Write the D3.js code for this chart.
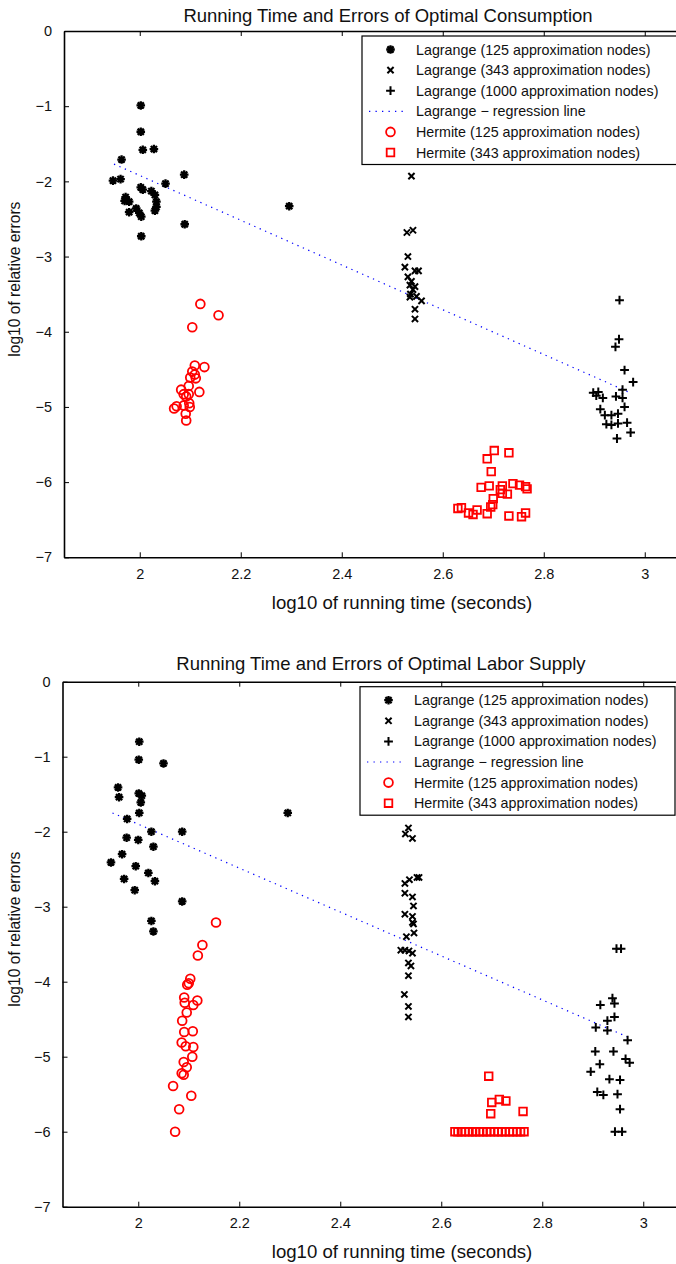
<!DOCTYPE html>
<html>
<head>
<title>Running Time and Errors</title>
<script src="https://d3js.org/d3.v7.min.js"></script>
<style>
  body {margin: 0; background: white;}
  text {font-family: "Liberation Sans", Arial, sans-serif; fill: #111;}
  .tick text {font-size: 14.5px;}
  .title {font-size: 18.5px;}
  .xlab {font-size: 18.6px;}
  .ylab {font-size: 15.6px;}
  .leg {font-size: 14.3px;}
</style>
</head>
<body>
<svg id="chart" width="676" height="1264"></svg>
<script>
// ticks shared by both panels
var xTicks = [2, 2.2, 2.4, 2.6, 2.8, 3];
var yTicks = [0, -1, -2, -3, -4, -5, -6, -7];
var legendLabels = ["Lagrange (125 approximation nodes)", "Lagrange (343 approximation nodes)",
  "Lagrange (1000 approximation nodes)", "Lagrange \u2212 regression line",
  "Hermite (125 approximation nodes)", "Hermite (343 approximation nodes)"];

// ---- panel 1: optimal consumption ----
var consLag125 = [[2.002,-0.99],[2.002,-1.34],[2.006,-1.58],[2.028,-1.57],[1.964,-1.71],[1.947,-1.99],
  [1.962,-1.97],[2.088,-1.91],[2.051,-2.03],[2.002,-2.08],[2.006,-2.11],[2.023,-2.13],[2.030,-2.18],
  [1.972,-2.21],[1.970,-2.26],[1.979,-2.27],[2.033,-2.27],[2.033,-2.34],[1.993,-2.36],[2.030,-2.39],
  [1.979,-2.41],[1.999,-2.42],[2.003,-2.47],[2.089,-2.57],[2.003,-2.73],[2.296,-2.33]];
var consLag343 = [[2.538,-1.93],[2.529,-2.68],[2.541,-2.65],[2.531,-3.00],[2.525,-3.14],[2.545,-3.19],
  [2.552,-3.19],[2.531,-3.27],[2.538,-3.33],[2.535,-3.38],[2.545,-3.40],[2.541,-3.44],[2.536,-3.50],
  [2.548,-3.53],[2.558,-3.59],[2.535,-3.54],[2.545,-3.70],[2.545,-3.83]];
var consLag1000 = [[2.950,-3.58],[2.949,-4.10],[2.942,-4.20],[2.960,-4.51],[2.977,-4.67],[2.956,-4.77],
  [2.898,-4.81],[2.908,-4.80],[2.904,-4.85],[2.917,-4.88],[2.943,-4.86],[2.956,-4.88],[2.960,-5.00],
  [2.912,-5.03],[2.921,-5.11],[2.934,-5.11],[2.947,-5.09],[2.924,-5.23],[2.934,-5.24],[2.947,-5.22],
  [2.965,-5.21],[2.972,-5.34],[2.945,-5.42]];
var consHer125 = [[2.120,-3.63],[2.156,-3.78],[2.104,-3.94],[2.109,-4.45],[2.128,-4.47],[2.104,-4.53],
  [2.109,-4.57],[2.100,-4.61],[2.111,-4.62],[2.097,-4.72],[2.082,-4.77],[2.118,-4.80],[2.087,-4.83],
  [2.097,-4.83],[2.092,-4.86],[2.098,-4.95],[2.073,-4.99],[2.068,-5.02],[2.087,-4.98],[2.099,-5.00],
  [2.091,-5.09],[2.092,-5.18]];
var consHer343 = [[2.702,-5.58],[2.731,-5.61],[2.688,-5.69],[2.696,-5.86],[2.676,-6.07],[2.692,-6.05],
  [2.718,-6.05],[2.739,-6.02],[2.752,-6.04],[2.764,-6.06],[2.767,-6.09],[2.714,-6.10],[2.718,-6.15],
  [2.728,-6.16],[2.700,-6.22],[2.699,-6.30],[2.695,-6.33],[2.630,-6.35],[2.637,-6.34],[2.668,-6.37],
  [2.651,-6.41],[2.660,-6.43],[2.688,-6.42],[2.731,-6.45],[2.756,-6.46],[2.764,-6.41]];
var consReg = [[1.949,-1.77],[2.974,-4.82]];

// ---- panel 2: optimal labor supply ----
var laborLag125 = [[2.002,-0.80],[2.001,-1.04],[2.050,-1.09],[1.960,-1.41],[1.962,-1.54],[2.001,-1.49],
  [2.007,-1.52],[2.005,-1.61],[2.002,-1.75],[2.296,-1.75],[1.978,-1.83],[2.026,-2.00],[2.087,-2.00],
  [1.977,-2.08],[2.000,-2.11],[2.030,-2.20],[1.968,-2.30],[1.946,-2.41],[1.995,-2.46],[2.020,-2.55],
  [1.972,-2.63],[2.033,-2.66],[1.993,-2.78],[2.087,-2.93],[2.026,-3.19],[2.030,-3.33]];
var laborLag343 = [[2.535,-1.95],[2.529,-2.03],[2.543,-2.09],[2.537,-2.64],[2.528,-2.69],[2.552,-2.61],
  [2.556,-2.61],[2.528,-2.82],[2.543,-2.87],[2.545,-2.99],[2.528,-3.10],[2.543,-3.13],[2.543,-3.21],
  [2.545,-3.23],[2.546,-3.35],[2.531,-3.40],[2.520,-3.58],[2.528,-3.58],[2.536,-3.59],[2.543,-3.62],
  [2.535,-3.75],[2.540,-3.79],[2.535,-3.92],[2.527,-4.17],[2.535,-4.33],[2.535,-4.47]];
var laborLag1000 = [[2.947,-3.56],[2.956,-3.56],[2.939,-4.22],[2.943,-4.29],[2.915,-4.31],[2.943,-4.47],
  [2.929,-4.52],[2.906,-4.61],[2.929,-4.65],[2.969,-4.78],[2.905,-4.93],[2.941,-4.93],[2.965,-5.03],
  [2.973,-5.08],[2.914,-5.10],[2.896,-5.20],[2.933,-5.30],[2.954,-5.31],[2.909,-5.47],[2.921,-5.51],
  [2.949,-5.50],[2.954,-5.70],[2.944,-6.00],[2.958,-6.00]];
var laborHer125 = [[2.154,-3.21],[2.127,-3.51],[2.118,-3.65],[2.103,-3.96],[2.097,-4.04],[2.100,-4.02],
  [2.091,-4.21],[2.092,-4.28],[2.117,-4.25],[2.109,-4.31],[2.096,-4.41],[2.087,-4.52],[2.091,-4.67],
  [2.108,-4.66],[2.086,-4.81],[2.094,-4.86],[2.109,-4.87],[2.107,-5.00],[2.090,-5.07],[2.096,-5.14],
  [2.086,-5.22],[2.090,-5.24],[2.069,-5.39],[2.105,-5.52],[2.081,-5.70],[2.073,-6.00]];
var laborHer343 = [[2.694,-5.26],[2.700,-5.61],[2.715,-5.57],[2.728,-5.59],[2.698,-5.76],[2.762,-5.73],
  [2.627,-6.00],[2.633,-6.00],[2.640,-6.00],[2.647,-6.00],[2.655,-6.00],[2.662,-6.00],[2.668,-6.00],
  [2.676,-6.00],[2.683,-6.00],[2.690,-6.00],[2.697,-6.00],[2.705,-6.00],[2.713,-6.00],[2.720,-6.00],
  [2.727,-6.00],[2.735,-6.00],[2.742,-6.00],[2.750,-6.00],[2.757,-6.00],[2.764,-6.00]];
var laborReg = [[1.949,-1.75],[2.970,-4.74]];

var panels = [
  {title: "Running Time and Errors of Optimal Consumption", top: 31, bottom: 557.3, left: 64, legX: 362,
   titleX: 388, titleY: 15, sets: [consLag125, consLag343, consLag1000, consHer125, consHer343], reg: consReg},
  {title: "Running Time and Errors of Optimal Labor Supply", top: 681.7, bottom: 1206.7, left: 62.5, legX: 360,
   titleX: 381, titleY: 663.5, sets: [laborLag125, laborLag343, laborLag1000, laborHer125, laborHer343], reg: laborReg}
];

// marker shapes, one per series
function marker(kind) {
  if (kind == "ast") return "M-4.3,0H4.3M0,-4.3V4.3M-3.1,-3.1L3.1,3.1M-3.1,3.1L3.1,-3.1";
  if (kind == "times") return "M-3.1,-3.1L3.1,3.1M-3.1,3.1L3.1,-3.1";
  if (kind == "plus") return "M-4.4,0H4.4M0,-4.4V4.4";
  if (kind == "square") return "M-3.8,-3.8H3.8V3.8H-3.8Z";
  return "";
}
var kinds = ["ast", "times", "plus", "circle", "square"];
var colors = ["black", "black", "black", "red", "red"];
var widths = {ast: 2.3, times: 2, plus: 2, circle: 1.8, square: 1.8};

var svg = d3.select("#chart");

function drawMarker(g, kind, color, x, y) {
  if (kind == "circle") {
    g.append("circle").attr("cx", x).attr("cy", y).attr("r", 4.4)
      .style("fill", "none").style("stroke", color).style("stroke-width", widths[kind]);
  } else {
    g.append("path").attr("d", marker(kind)).attr("transform", "translate(" + x + "," + y + ")")
      .style("fill", "none").style("stroke", color).style("stroke-width", widths[kind]);
  }
}

panels.forEach(function(p) {
  var x = d3.scaleLinear().domain([1.85, 3.17]).range([p.left, p.left + 1.32 * 505]);
  var y = d3.scaleLinear().domain([-7, 0]).range([p.bottom, p.top]);
  var g = svg.append("g");

  // axes: ticks point inward like matlab
  var fmt = function(d) { return d < 0 ? "\u2212" + Math.abs(d) : String(d); };
  var xa = g.append("g").attr("transform", "translate(0," + p.bottom + ")")
    .call(d3.axisBottom(x).tickValues(xTicks).tickSizeInner(-5).tickSizeOuter(0).tickPadding(9).tickFormat(fmt));
  g.append("g").attr("transform", "translate(0," + p.top + ")")
    .call(d3.axisTop(x).tickValues(xTicks).tickSizeInner(-5).tickSizeOuter(0).tickFormat(""));
  g.append("g").attr("transform", "translate(" + p.left + ",0)")
    .call(d3.axisLeft(y).tickValues(yTicks).tickSizeInner(-5).tickSizeOuter(0).tickPadding(12).tickFormat(fmt));
  g.selectAll(".domain").style("stroke", "black").style("stroke-width", 1.6);
  g.selectAll(".tick line").style("stroke", "black");
  xa.selectAll("text").attr("dy", "0.85em");

  // regression line
  g.append("line")
    .attr("x1", x(p.reg[0][0])).attr("y1", y(p.reg[0][1]))
    .attr("x2", x(p.reg[1][0])).attr("y2", y(p.reg[1][1]))
    .style("stroke", "#0000ff").style("stroke-width", 1.2).style("stroke-dasharray", "1.3,4.6");

  // points
  p.sets.forEach(function(set, i) {
    var sg = g.append("g");
    set.forEach(function(d) { drawMarker(sg, kinds[i], colors[i], x(d[0]), y(d[1])); });
  });

  // titles and labels
  g.append("text").attr("class", "title").attr("x", p.titleX).attr("y", p.titleY)
    .attr("text-anchor", "middle").attr("dominant-baseline", "central").text(p.title);
  g.append("text").attr("class", "xlab").attr("x", 402).attr("y", p.bottom + 45)
    .attr("text-anchor", "middle").attr("dominant-baseline", "central").text("log10 of running time (seconds)");
  var my = (p.top + p.bottom) / 2 - 15;
  g.append("text").attr("class", "ylab").attr("transform", "translate(14," + my + ") rotate(-90)")
    .attr("text-anchor", "middle").attr("dominant-baseline", "central").text("log10 of relative errors");

  // legend
  var lg = g.append("g").attr("transform", "translate(" + p.legX + "," + (p.top + 5) + ")");
  lg.append("rect").attr("width", 315).attr("height", 128.5)
    .style("fill", "white").style("stroke", "black").style("stroke-width", 1.2);
  legendLabels.forEach(function(t, i) {
    var ry = 13.5 + i * 20.6;
    if (i == 3) {
      lg.append("line").attr("x1", 7).attr("x2", 46).attr("y1", ry).attr("y2", ry)
        .style("stroke", "#0000ff").style("stroke-width", 1.2).style("stroke-dasharray", "1.3,5.2");
    } else {
      var k = i < 3 ? i : i - 1;
      drawMarker(lg, kinds[k], colors[k], 28.5, ry);
    }
    lg.append("text").attr("class", "leg").attr("x", 54).attr("y", ry)
      .attr("dominant-baseline", "central").text(t);
  });
});
</script>
</body>
</html>
